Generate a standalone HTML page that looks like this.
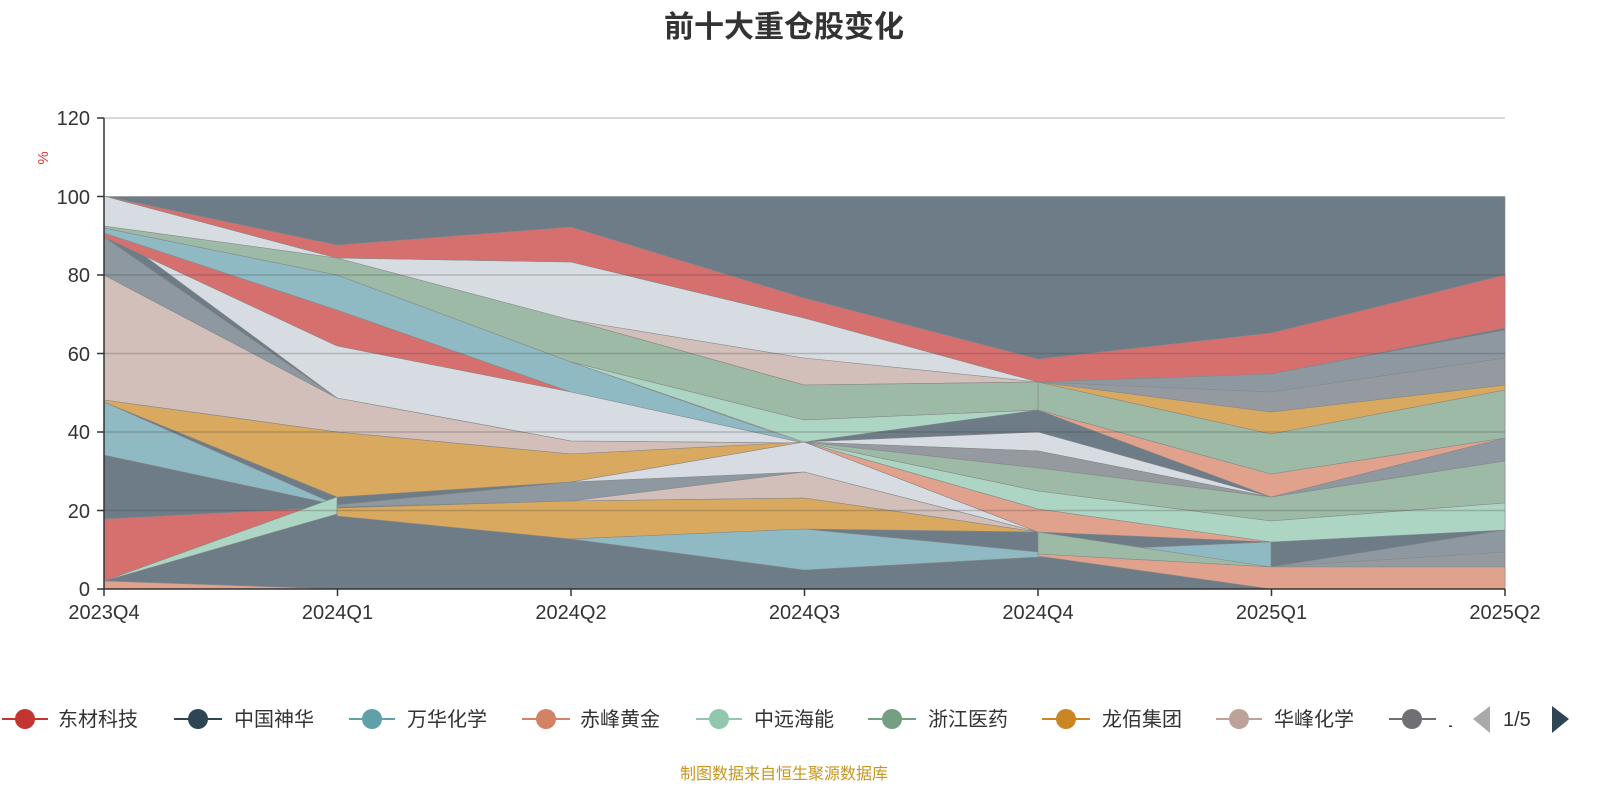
<!DOCTYPE html>
<html><head><meta charset="utf-8"><style>
body{margin:0;background:#fff;width:1600px;height:800px;overflow:hidden;font-family:"Liberation Sans","Noto Sans CJK SC",sans-serif;}
</style></head><body>
<svg width="1600" height="800" xmlns="http://www.w3.org/2000/svg" style="font-family:'Liberation Sans','Noto Sans CJK SC',sans-serif">
<defs><clipPath id="lc"><rect x="1440" y="700" width="12" height="40"/></clipPath></defs>
<text x="784" y="37" text-anchor="middle" font-size="30" font-weight="bold" fill="#333">前十大重仓股变化</text>
<g stroke="#ccc" stroke-width="1.5">
<line x1="104" y1="118" x2="1505" y2="118"/>
</g>
<g stroke="#888" stroke-width="0.6" stroke-linejoin="round">
<rect x="104" y="196.5" width="1401" height="392.5" fill="#6e7c87"/>
<polygon fill="#d7dce2" points="104,196 337,258 571,262 804,318 1038,380 1038,382 804,443 571,441 337,398 104,226"/>
<polygon fill="#d6706f" points="104,196 337,245 571,227 804,298 1038,359 1271,333 1505,275 1505,328 1271,374 1038,382 804,318 571,262 337,258"/>
<polygon fill="#d2bfba" points="571,320 804,358 1038,382 804,385"/>
<polygon fill="#d2bfba" points="104,275 337,398 571,441 804,443 571,454 337,432 104,400"/>
<polygon fill="#8d98a1" points="104,237 337,398 104,275"/>
<polygon fill="#d6706f" points="104,233 337,310 571,392 337,346 104,237"/>
<polygon fill="#8fbac3" points="104,228 337,275 571,362 804,443 571,392 337,310 104,233"/>
<polygon fill="#9cbaa5" points="104,226 337,258 571,320 804,385 1038,382 1038,410 804,420 571,362 337,275 104,228"/>
<polygon fill="#acd6c3" points="571,362 804,420 1038,410 804,442"/>
<polygon fill="#d6706f" points="104,519 337,507 104,581"/>
<polygon fill="#8fbac3" points="104,402 337,505 104,455"/>
<polygon fill="#d8a95f" points="104,400 337,432 571,454 804,442 571,482 337,497 104,402"/>
<polygon fill="#acd6c3" points="104,581 337,497 337,514"/>
<polygon fill="#8d98a1" points="337,505 571,482 804,472 571,501 337,507"/>
<polygon fill="#d7dce2" points="571,482 804,442 1038,532 804,472"/>
<polygon fill="#d2bfba" points="571,501 804,472 1038,532 804,498"/>
<polygon fill="#d8a95f" points="337,508 571,501 804,498 1038,532 804,529 571,539 337,516"/>
<polygon fill="#8fbac3" points="571,539 804,529 1038,552 1271,542 1271,567 1038,557 804,570"/>
<polygon fill="#e0a28d" points="104,581 104,589 337,589"/>
<polygon fill="#d7dce2" points="804,442 1038,432 1271,497 1038,451"/>
<polygon fill="#959aa1" points="804,442 1038,451 1271,497 1038,468"/>
<polygon fill="#9cbaa5" points="804,442 1038,468 1271,497 1505,461 1505,503 1271,521 1038,491"/>
<polygon fill="#acd6c3" points="804,442 1038,491 1271,521 1505,503 1505,530 1271,542 1038,509"/>
<polygon fill="#e0a28d" points="804,442 1038,509 1271,542 1038,532"/>
<polygon fill="#9cbaa5" points="1038,532 1271,567 1038,554"/>
<polygon fill="#8d98a1" points="1271,497 1505,438 1505,461"/>
<polygon fill="#e0a28d" points="1038,410 1271,474 1505,438 1271,497"/>
<polygon fill="#9cbaa5" points="1038,382 1271,434 1505,390 1505,438 1271,474 1038,410"/>
<polygon fill="#d8a95f" points="1038,382 1271,412 1505,385 1505,390 1271,434"/>
<polygon fill="#959aa1" points="1038,382 1271,392 1505,358 1505,385 1271,412"/>
<polygon fill="#8d98a1" points="1038,382 1271,374 1505,330 1505,358 1271,392"/>
<polygon fill="#8d98a1" points="1271,567 1505,530 1505,552"/>
<polygon fill="#959aa1" points="1271,567 1505,552 1505,567"/>
<polygon fill="#e0a28d" points="1038,554 1271,567 1505,567 1505,589 1271,589 1038,556"/>
</g>
<g stroke="rgba(60,60,60,0.25)" stroke-width="1.5">
<line x1="104" y1="275" x2="1505" y2="275"/><line x1="104" y1="353.5" x2="1505" y2="353.5"/>
<line x1="104" y1="432" x2="1505" y2="432"/><line x1="104" y1="510.5" x2="1505" y2="510.5"/>
</g>
<line x1="104" y1="118" x2="104" y2="589" stroke="#333" stroke-width="1.5"/>
<line x1="104" y1="589" x2="1505" y2="589" stroke="#333" stroke-width="1.5"/>
<g stroke="#333" stroke-width="1.5">
<line x1="97" y1="118" x2="104" y2="118"/><line x1="97" y1="196.5" x2="104" y2="196.5"/><line x1="97" y1="275" x2="104" y2="275"/><line x1="97" y1="353.5" x2="104" y2="353.5"/><line x1="97" y1="432" x2="104" y2="432"/><line x1="97" y1="510.5" x2="104" y2="510.5"/><line x1="97" y1="589" x2="104" y2="589"/>
<line x1="104" y1="589" x2="104" y2="596"/><line x1="337.5" y1="589" x2="337.5" y2="596"/><line x1="571" y1="589" x2="571" y2="596"/><line x1="804.5" y1="589" x2="804.5" y2="596"/><line x1="1038" y1="589" x2="1038" y2="596"/><line x1="1271.5" y1="589" x2="1271.5" y2="596"/><line x1="1505" y1="589" x2="1505" y2="596"/>
</g>
<g font-size="20" fill="#333" text-anchor="end">
<text x="90" y="125">120</text><text x="90" y="204">100</text><text x="90" y="282">80</text><text x="90" y="361">60</text><text x="90" y="439">40</text><text x="90" y="518">20</text><text x="90" y="596">0</text>
</g>
<text x="48" y="158" font-size="15" fill="#d33" transform="rotate(-90 48 158)" text-anchor="middle">%</text>
<g font-size="20" fill="#333" text-anchor="middle">
<text x="104" y="619">2023Q4</text><text x="337.5" y="619">2024Q1</text><text x="571" y="619">2024Q2</text><text x="804.5" y="619">2024Q3</text><text x="1038" y="619">2024Q4</text><text x="1271.5" y="619">2025Q1</text><text x="1505" y="619">2025Q2</text>
</g>
<g font-size="20" fill="#333">
<line x1="2" y1="719" x2="48" y2="719" stroke="#c23531" stroke-width="2"/><circle cx="25" cy="719" r="10" fill="#c23531"/><text x="58" y="726">东材科技</text>
<line x1="174" y1="719" x2="222" y2="719" stroke="#2f4554" stroke-width="2"/><circle cx="198" cy="719" r="10" fill="#2f4554"/><text x="234" y="726">中国神华</text>
<line x1="349" y1="719" x2="395" y2="719" stroke="#61a0a8" stroke-width="2"/><circle cx="372" cy="719" r="10" fill="#61a0a8"/><text x="407" y="726">万华化学</text>
<line x1="522" y1="719" x2="570" y2="719" stroke="#d48265" stroke-width="2"/><circle cx="546" cy="719" r="10" fill="#d48265"/><text x="580" y="726">赤峰黄金</text>
<line x1="696" y1="719" x2="742" y2="719" stroke="#91c7ae" stroke-width="2"/><circle cx="719" cy="719" r="10" fill="#91c7ae"/><text x="754" y="726">中远海能</text>
<line x1="868" y1="719" x2="916" y2="719" stroke="#749f83" stroke-width="2"/><circle cx="892" cy="719" r="10" fill="#749f83"/><text x="928" y="726">浙江医药</text>
<line x1="1042" y1="719" x2="1090" y2="719" stroke="#ca8622" stroke-width="2"/><circle cx="1066" cy="719" r="10" fill="#ca8622"/><text x="1102" y="726">龙佰集团</text>
<line x1="1216" y1="719" x2="1262" y2="719" stroke="#bda29a" stroke-width="2"/><circle cx="1239" cy="719" r="10" fill="#bda29a"/><text x="1274" y="726">华峰化学</text>
<line x1="1389" y1="719" x2="1436" y2="719" stroke="#6e7074" stroke-width="2"/><circle cx="1412" cy="719" r="10" fill="#6e7074"/>
<text x="1448" y="726" clip-path="url(#lc)">上海</text>
<text x="1503" y="726">1/5</text>
</g>
<polygon points="1490,706 1490,733 1473,719" fill="#aaa"/>
<polygon points="1552,706 1552,733 1569,719" fill="#2f4554"/>
<text x="784" y="779" text-anchor="middle" font-size="16" fill="#c8961e">制图数据来自恒生聚源数据库</text>
</svg>
</body></html>
